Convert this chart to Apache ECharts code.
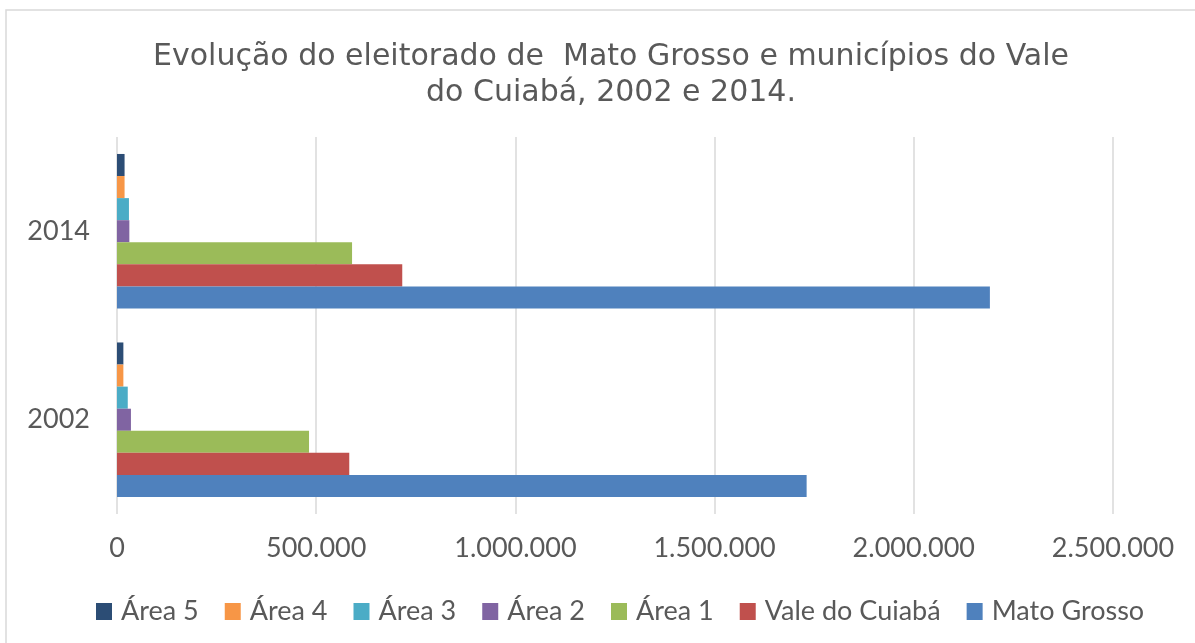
<!DOCTYPE html>
<html>
<head>
<meta charset="utf-8">
<title>Evolução do eleitorado</title>
<script src="https://cdn.jsdelivr.net/npm/echarts@6/dist/echarts.min.js"></script>
<style>
    html, body { margin: 0; padding: 0; background: #fff; }
    #chart { width: 1195px; height: 643px; }
</style>
</head>
<body>
<div id="chart"></div>
<script>
// data
const years = ['2002', '2014'];
const seriesNames = ['Área 5', 'Área 4', 'Área 3', 'Área 2', 'Área 1', 'Vale do Cuiabá', 'Mato Grosso'];
const area5 = [16000, 19000];
const area4 = [16000, 19000];
const area3 = [27000, 30000];
const area2 = [35000, 31000];
const area1 = [482000, 590000];
const valeCuiaba = [583000, 716000];
const matoGrosso = [1731000, 2191000];
const xTicks = [0, 500000, 1000000, 1500000, 2000000, 2500000];

const values = [area5, area4, area3, area2, area1, valeCuiaba, matoGrosso];
const colors = ['#2C4D75', '#F79646', '#4BACC6', '#8064A2', '#9BBB59', '#C0504D', '#4F81BD'];

// 2.500.000 style
function fmt(v) {
    return String(v).replace(/\B(?=(\d{3})+(?!\d))/g, '.');
}

let chart = echarts.init(document.getElementById('chart'));

const option = {
    animation: false,
    title: {
        text: 'Evolução do eleitorado de  Mato Grosso e municípios do Vale\ndo Cuiabá, 2002 e 2014.',
        left: 606,
        top: 34,
        textAlign: 'center',
        textStyle: {
            fontFamily: 'DejaVu Sans',
            fontSize: 30,
            fontWeight: 'normal',
            color: '#595959',
            lineHeight: 36,
        },
    },
    graphic: [{
        type: 'rect',
        shape: { x: 6, y: 10, width: 1400, height: 800 },
        style: { fill: 'none', stroke: '#d9d9d9', lineWidth: 1.5 },
        silent: true,
    }],
    legend: {
        data: seriesNames,
        bottom: 13,
        left: 91,
        icon: 'rect',
        itemWidth: 16,
        itemHeight: 17,
        itemGap: 26,
        textStyle: {
            fontFamily: 'Lato',
            fontSize: 27,
            color: '#595959',
            padding: [0, 0, 0, 4],
        },
    },
    grid: {
        left: 117,
        right: 82,
        top: 137,
        bottom: 129,
    },
    xAxis: {
        type: 'value',
        min: xTicks[0],
        max: xTicks[xTicks.length - 1],
        interval: xTicks[1] - xTicks[0],
        axisLine: { show: false },
        axisTick: { show: false },
        splitLine: { show: true, lineStyle: { color: '#d9d9d9', width: 1.5 } },
        axisLabel: {
            formatter: fmt,
            fontFamily: 'Lato',
            fontSize: 27,
            color: '#595959',
            margin: 21,
        },
    },
    yAxis: {
        type: 'category',
        data: years,
        axisLine: { show: false },
        axisTick: { show: false },
        axisLabel: {
            fontFamily: 'Lato',
            fontSize: 27,
            color: '#595959',
            margin: 27,
        },
    },
    series: seriesNames.map(function (name, i) {
        return {
            name: name,
            type: 'bar',
            data: values[i],
            barGap: 0,
            barCategoryGap: '18%',
            itemStyle: { color: colors[i] },
        };
    }),
};

chart.setOption(option);
</script>
</body>
</html>
